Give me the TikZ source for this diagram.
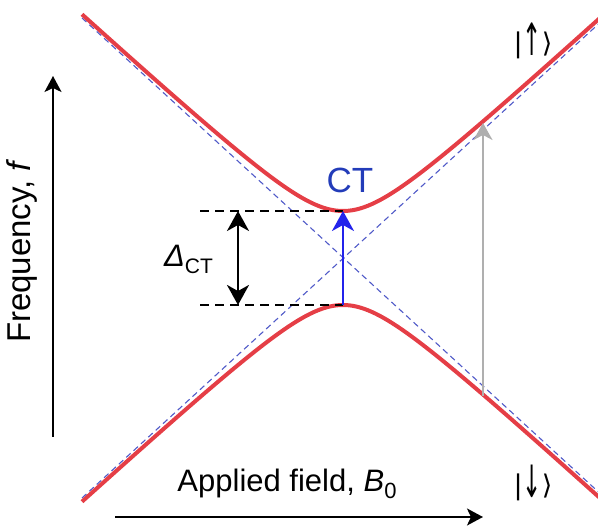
\documentclass[tikz,border=0pt]{standalone}
\usepackage{graphicx}
\usepackage{fontspec}
\setmainfont{Liberation Sans}
\newfontfamily\symfont{DejaVu Sans}
\usetikzlibrary{arrows.meta}
\definecolor{curvered}{RGB}{229,62,70}
\definecolor{asymblue}{RGB}{80,90,200}
\definecolor{ctblue}{RGB}{35,35,235}
\definecolor{ctlabel}{RGB}{35,60,185}
\definecolor{arrgray}{RGB}{175,175,175}
\newcommand{\tallarrow}[1]{\raisebox{-0.12em}{\scalebox{0.85}[1.65]{#1}}}
\tikzset{
  branch/.style={curvered, line width=4pt},
  asym/.style={asymblue, line width=1.1pt, dash pattern=on 6pt off 4pt},
  gapline/.style={black, line width=2.4pt, dash pattern=on 9pt off 6pt},
  bigtip/.style={-{Stealth[length=20pt,width=22pt,inset=6pt]}},
  axisarrow/.style={black, line width=2pt, -{Stealth[length=16pt,width=17pt,inset=4pt]}},
  lbl/.style={inner sep=0pt, font=\fontsize{31}{34}\selectfont},
  statelbl/.style={inner sep=0pt, font=\symfont\fontsize{27}{30}\selectfont},
}
\begin{document}
\begin{tikzpicture}[x=1pt,y=-1pt]
\useasboundingbox (0,0) rectangle (598,529);
\begin{scope}
\clip (0,0) rectangle (598,529);
% asymptotes
\coordinate (a1) at (82,18);
\coordinate (a2) at (610,{258+0.916*(610-343)});
\coordinate (b1) at (82,498);
\coordinate (b2) at (610,{258-0.916*(610-343)});
\draw[asym] (a1) -- (a2);
\draw[asym] (b1) -- (b2);
% hyperbola branches
\draw[branch] plot[domain=82:600, samples=160, smooth] (\x, {258 - 100*sqrt(0.47*0.47 + (0.916*(\x-343)/100)^2)});
\draw[branch] plot[domain=82:600, samples=160, smooth] (\x, {258 + 100*sqrt(0.47*0.47 + (0.916*(\x-343)/100)^2)});
\end{scope}
% gap lines
\coordinate (g1l) at (200,211);
\coordinate (g1r) at (343,211);
\coordinate (g2l) at (200,305);
\coordinate (g2r) at (343,305);
\draw[gapline] (g1l) -- (g1r);
\draw[gapline] (g2l) -- (g2r);
% CT arrow
\coordinate (ctlow) at (343,305);
\coordinate (cthigh) at (343,211);
\draw[ctblue, line width=2.4pt, bigtip] (ctlow) -- (cthigh);
\node[lbl, ctlabel, font=\fontsize{35}{38}\selectfont] (ct) at (350,180) {CT};
% Delta arrow
\coordinate (dtop) at (238,211);
\coordinate (dbot) at (238,305);
\draw[black, line width=2.4pt, {Stealth[length=20pt,width=22pt,inset=6pt]}-{Stealth[length=20pt,width=22pt,inset=6pt]}] (dtop) -- (dbot);
\node[lbl, anchor=base west, font=\fontsize{31}{34}\selectfont] (delta) at (164,267) {\textit{Δ}\raisebox{-7pt}{\fontsize{21}{24}\selectfont CT}};
% gray arrow
\coordinate (glow) at (483,396);
\coordinate (ghigh) at (483,123);
\draw[arrgray, line width=2pt, -{Stealth[length=17pt,width=19pt,inset=5pt]}] (glow) -- (ghigh);
% state labels
\node[statelbl] (up) at (533,41) {|\tallarrow{↑}⟩};
\node[statelbl] (down) at (533,483) {|\tallarrow{↓}⟩};
% axes
\coordinate (fy0) at (53,437);
\coordinate (fy1) at (53,76);
\draw[axisarrow] (fy0) -- (fy1);
\node[lbl, rotate=90, font=\fontsize{33}{36}\selectfont] (flabel) at (22,251) {Frequency, \textit{f}};
\coordinate (bx0) at (115,517);
\coordinate (bx1) at (483,517);
\draw[axisarrow] (bx0) -- (bx1);
\node[lbl, anchor=base] (blabel) at (287,492) {Applied field, \textit{B}\raisebox{-7pt}{\fontsize{22}{25}\selectfont 0}};
\end{tikzpicture}
\end{document}
